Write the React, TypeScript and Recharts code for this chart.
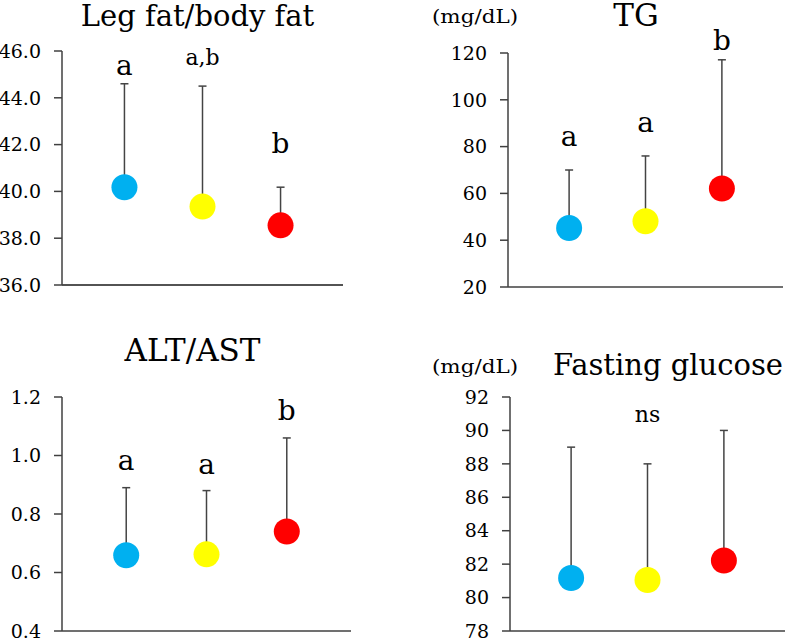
import { ScatterChart, Scatter, XAxis, YAxis, ErrorBar, Cell, ReferenceDot } from "recharts";

// three groups, drawn left to right
const groupX = [1, 2, 3];
const groupColors = ["#00B0F0", "#FFFF00", "#FF0000"];

const legFatMean = [40.18, 39.35, 38.55];
const legFatSD = [4.42, 5.15, 1.63];
const legFatTicks = [36, 38, 40, 42, 44, 46];
const legFatLetters = ["a", "a,b", "b"];
const legFatLetterY = [44.98, 45.4, 41.65];

const tgMean = [45.2, 48.1, 62.1];
const tgSD = [24.8, 27.9, 55.0];
const tgTicks = [20, 40, 60, 80, 100, 120];
const tgLetters = ["a", "a", "b"];
const tgLetterY = [80.4, 86.1, 121.4];

const altMean = [0.659, 0.662, 0.74];
const altSD = [0.231, 0.218, 0.32];
const altTicks = [0.4, 0.6, 0.8, 1.0, 1.2];
const altLetters = ["a", "a", "b"];
const altLetterY = [0.951, 0.937, 1.12];

const glucoseMean = [81.17, 81.05, 82.22];
const glucoseSD = [7.83, 6.95, 7.78];
const glucoseTicks = [78, 80, 82, 84, 86, 88, 90, 92];
const glucoseLetters = ["", "ns", ""];
const glucoseLetterY = [90.5, 90.5, 90.5];

const FONT = "'DejaVu Serif', serif";
const AXIS = "#404040";

interface PanelProps {
  left: number;
  top: number;
  width: number;
  height: number;
  yWidth: number;
  margin: { top: number; right: number; bottom: number };
  means: number[];
  sds: number[];
  ticks: number[];
  digits: number;
  letters: string[];
  letterY: number[];
  letterSize: number[];
  baseColor?: string;
}

function Panel(p: PanelProps) {
  const data = groupX.map((x, i) => ({ x, y: p.means[i], err: [0, p.sds[i]] }));
  const lo = p.ticks[0];
  const hi = p.ticks[p.ticks.length - 1];
  return (
    <div style={{ position: "absolute", left: p.left, top: p.top }}>
      <ScatterChart
        width={p.width}
        height={p.height}
        margin={{ top: p.margin.top, right: p.margin.right, bottom: p.margin.bottom, left: 0 }}
      >
        <XAxis
          type="number"
          dataKey="x"
          domain={[0.2, 3.8]}
          tick={false}
          tickLine={false}
          height={1}
          axisLine={{ stroke: p.baseColor ?? AXIS, strokeWidth: 1.5 }}
        />
        <YAxis
          type="number"
          dataKey="y"
          domain={[lo, hi]}
          ticks={p.ticks}
          interval={0}
          width={p.yWidth}
          tickSize={8}
          tickMargin={13}
          tickFormatter={(v: number) => v.toFixed(p.digits)}
          tick={{ fill: "#000", fontSize: 19, fontFamily: FONT }}
          axisLine={{ stroke: AXIS, strokeWidth: 1.5 }}
          tickLine={{ stroke: AXIS, strokeWidth: 1.5 }}
        />
        <Scatter
          data={data}
          isAnimationActive={false}
          shape={(s: any) => <circle cx={s.cx} cy={s.cy} r={13} fill={s.fill} />}
        >
          {data.map((_, i) => (
            <Cell key={i} fill={groupColors[i]} />
          ))}
          <ErrorBar dataKey="err" direction="y" width={4} stroke="#444" strokeWidth={1.5} />
        </Scatter>
        {p.letters.map((t, i) =>
          t ? (
            <ReferenceDot
              key={i}
              x={groupX[i]}
              y={p.letterY[i]}
              r={0}
              ifOverflow="visible"
              shape={(s: any) => (
                <text x={s.cx} y={s.cy} textAnchor="middle" fontFamily={FONT} fontSize={p.letterSize[i]} fill="#000">
                  {t}
                </text>
              )}
            />
          ) : null
        )}
      </ScatterChart>
    </div>
  );
}

export default function App() {
  return (
    <div style={{ position: "absolute", left: 0, top: 0, width: 787, height: 639, background: "#fff", overflow: "hidden" }}>
      <Panel
        left={0} top={0} width={350} height={300} yWidth={62}
        margin={{ top: 51, right: 7, bottom: 14 }}
        means={legFatMean} sds={legFatSD} ticks={legFatTicks} digits={1}
        letters={legFatLetters} letterY={legFatLetterY} letterSize={[28, 22, 28]}
        baseColor="#1a1a1a"
      />
      <Panel
        left={420} top={0} width={367} height={300} yWidth={88}
        margin={{ top: 53, right: 4, bottom: 12 }}
        means={tgMean} sds={tgSD} ticks={tgTicks} digits={0}
        letters={tgLetters} letterY={tgLetterY} letterSize={[28, 28, 28]}
      />
      <Panel
        left={0} top={320} width={360} height={319} yWidth={62}
        margin={{ top: 77, right: 9, bottom: 7 }}
        means={altMean} sds={altSD} ticks={altTicks} digits={1}
        letters={altLetters} letterY={altLetterY} letterSize={[28, 28, 28]}
      />
      <Panel
        left={420} top={320} width={367} height={319} yWidth={90}
        margin={{ top: 77, right: 2, bottom: 7 }}
        means={glucoseMean} sds={glucoseSD} ticks={glucoseTicks} digits={0}
        letters={glucoseLetters} letterY={glucoseLetterY} letterSize={[22, 22, 22]}
      />
      <svg width={787} height={639} style={{ position: "absolute", left: 0, top: 0, pointerEvents: "none" }}>
        <g fontFamily={FONT} fill="#000" textAnchor="middle">
          <text x={197.5} y={26} fontSize={29}>Leg fat/body fat</text>
          <text x={636} y={26} fontSize={31}>TG</text>
          <text x={475} y={23} fontSize={19} textLength={86} lengthAdjust="spacingAndGlyphs">(mg/dL)</text>
          <text x={192.5} y={361} fontSize={31}>ALT/AST</text>
          <text x={668} y={375} fontSize={29}>Fasting glucose</text>
          <text x={475} y={373} fontSize={19} textLength={86} lengthAdjust="spacingAndGlyphs">(mg/dL)</text>
        </g>
      </svg>
    </div>
  );
}
